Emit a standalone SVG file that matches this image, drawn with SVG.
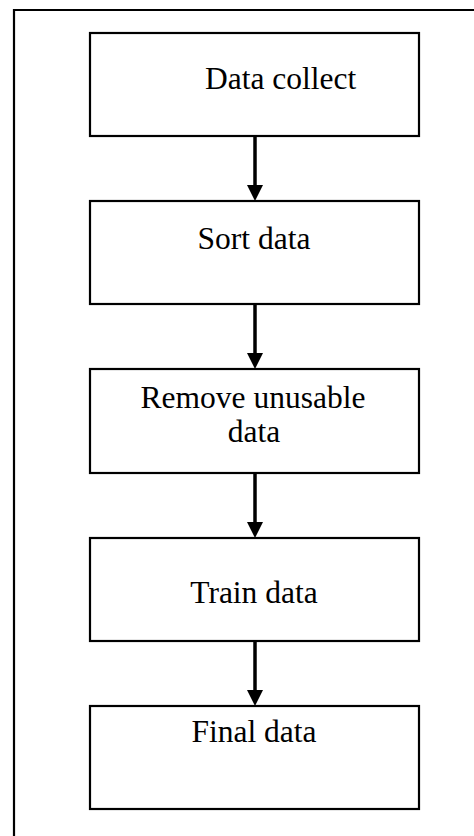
<svg xmlns="http://www.w3.org/2000/svg" width="474" height="836" viewBox="0 0 474 836">
<style>
.box{fill:#fff;stroke:#000;stroke-width:2.2}
.frame{fill:none;stroke:#000;stroke-width:2.2}
.lbl{font-family:"Liberation Serif","Times New Roman",serif;font-size:31.5px;fill:#000}
.edge{stroke:#000;stroke-width:3.5;fill:none}
</style>
<defs>
<marker id="ah" markerUnits="userSpaceOnUse" markerWidth="17" markerHeight="17" refX="1" refY="8" orient="auto" viewBox="0 0 17 17">
<path d="M0,0 L16,8 L0,16 z" fill="#000"/>
</marker>
</defs>
<rect width="474" height="836" fill="#fff"/>
<path class="frame" d="M14,836 L14,10 L474,10"/>
<g id="connectors">
<line class="edge" x1="255" y1="136" x2="255" y2="186" marker-end="url(#ah)"/>
<line class="edge" x1="255" y1="304" x2="255" y2="354" marker-end="url(#ah)"/>
<line class="edge" x1="255" y1="473" x2="255" y2="523" marker-end="url(#ah)"/>
<line class="edge" x1="255" y1="641" x2="255" y2="691" marker-end="url(#ah)"/>
</g>
<g id="node-data-collect">
<rect class="box" x="90" y="33" width="329" height="103"/>
<text class="lbl" x="205" y="89">Data collect</text>
</g>
<g id="node-sort-data">
<rect class="box" x="90" y="201" width="329" height="103"/>
<text class="lbl" x="254" y="249" text-anchor="middle">Sort data</text>
</g>
<g id="node-remove-unusable">
<rect class="box" x="90" y="369" width="329" height="104"/>
<text class="lbl" x="253" y="408" text-anchor="middle">Remove unusable</text>
<text class="lbl" x="254" y="442" text-anchor="middle">data</text>
</g>
<g id="node-train-data">
<rect class="box" x="90" y="538" width="329" height="103"/>
<text class="lbl" x="254" y="603" text-anchor="middle">Train data</text>
</g>
<g id="node-final-data">
<rect class="box" x="90" y="706" width="329" height="103"/>
<text class="lbl" x="254" y="742" text-anchor="middle">Final data</text>
</g>
</svg>
